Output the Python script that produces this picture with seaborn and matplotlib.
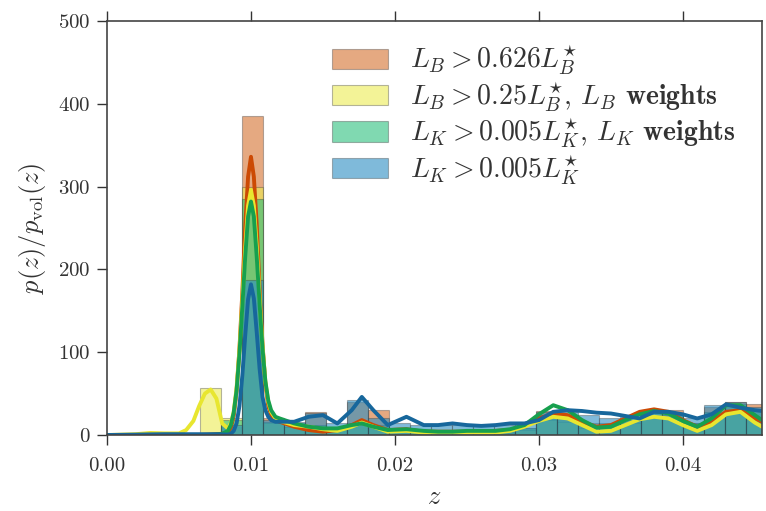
import numpy as np
import matplotlib
matplotlib.use("Agg")
import matplotlib.pyplot as plt
import seaborn as sns

# ---------------- data ----------------
bin_start = 0.00062
bin_width = 0.00146
n_bins = 31

labels = [r'$L_B > 0.626L_B^{\star}$',
          r'$L_B > 0.25L_B^{\star}$, $L_B$ $\mathbf{weights}$',
          r'$L_K > 0.005L_K^{\star}$, $L_K$ $\mathbf{weights}$',
          r'$L_K > 0.005L_K^{\star}$']

hist_orange = [0, 0, 0, 0, 0, 10, 385, 20, 10, 28, 8, 40, 30, 8, 6, 4, 4, 4, 4, 8,
               29, 24, 14, 12, 18, 28, 30, 14, 34, 40, 38]
hist_yellow = [0, 0, 3, 0, 57, 20, 300, 15, 10, 8, 6, 12, 10, 4, 3, 3, 3, 3, 3, 6,
               18, 16, 8, 10, 14, 20, 22, 10, 22, 28, 22]
hist_green = [0, 0, 0, 0, 0, 18, 285, 16, 14, 12, 8, 14, 12, 6, 5, 5, 5, 5, 5, 8,
              24, 22, 12, 14, 18, 26, 24, 14, 28, 38, 32]
hist_blue = [0, 0, 0, 0, 0, 12, 187, 18, 16, 26, 14, 42, 20, 14, 12, 12, 12, 12, 12, 14,
             28, 28, 24, 20, 22, 28, 26, 20, 36, 40, 34]

z_curve = [0, 0.002, 0.003, 0.004, 0.005, 0.0055, 0.006, 0.0064, 0.0068, 0.0072,
           0.0076, 0.008,
           0.0084, 0.0086, 0.0088, 0.009, 0.0092, 0.0094, 0.0096, 0.0098, 0.01,
           0.0102, 0.0104, 0.0106, 0.0108, 0.011, 0.0112, 0.0114, 0.0117, 0.012,
           0.013, 0.014, 0.015, 0.016, 0.017, 0.0177, 0.0185, 0.0195, 0.0208,
           0.022, 0.023, 0.024, 0.025, 0.026, 0.027, 0.028, 0.029, 0.030, 0.031,
           0.032, 0.033, 0.034, 0.035, 0.036, 0.037, 0.038, 0.039, 0.040, 0.041,
           0.042, 0.043, 0.044, 0.045, 0.0455]

kde_orange = [0, 0, 0, 0, 0, 0, 0, 0, 0.3, 0.5,
              1, 1.5,
              3, 9, 23, 53, 104, 172, 252, 312, 336,
              312, 254, 176, 110, 62, 35, 24, 18, 16,
              10, 6, 4, 6, 12, 18, 12, 6, 7,
              4, 4, 4, 4, 4, 5, 6, 12, 20, 26,
              24, 16, 10, 12, 20, 28, 31, 28, 18, 10,
              16, 28, 30, 20, 16]
kde_yellow = [0, 1, 2.5, 2, 2, 6, 17, 35, 50, 55,
              44, 14,
              8, 14, 28, 57, 103, 163, 226, 277, 296,
              277, 228, 166, 108, 64, 40, 28, 20, 17,
              12, 10, 7, 5, 10, 15, 10, 4, 5,
              3, 3, 3, 3, 3, 3, 5, 10, 17, 22,
              20, 12, 4, 5, 12, 19, 22, 20, 12, 5,
              12, 25, 28, 15, 10]
kde_green = [0, 0, 0, 0, 0, 0, 0, 0, 0, 0.3,
             0.6, 1.5,
             5, 12, 27, 54, 98, 155, 215, 264, 282,
             264, 215, 158, 105, 65, 42, 30, 22, 20,
             14, 10, 8, 8, 12, 14, 10, 6, 7,
             5, 4, 4, 5, 5, 5, 7, 12, 25, 36,
             30, 18, 9, 10, 18, 25, 29, 26, 17, 10,
             20, 36, 36, 24, 18]
kde_blue = [0, 0.5, 0.8, 1, 1, 1, 1, 1, 1, 1,
            1, 0.8,
            0.5, 1.5, 5, 14, 35, 72, 120, 164, 182,
            165, 124, 80, 46, 30, 22, 18, 16, 16,
            16, 22, 24, 14, 30, 46, 30, 12, 22,
            12, 12, 14, 12, 11, 12, 14, 14, 18, 28,
            30, 29, 27, 26, 23, 20, 28, 28, 25, 20,
            25, 37, 33, 30, 29]

fill_colors = ['#d4702e', '#ecec52', '#2cc07e', '#2a8dc2']
line_colors = ['#cc4a04', '#e8e630', '#17a04e', '#17679c']

# ---------------- style ----------------
sns.set_style('white')
plt.rcParams['font.family'] = ['serif']
plt.rcParams['font.serif'] = ['cmr10', 'DejaVu Serif']
plt.rcParams['mathtext.fontset'] = 'cm'
plt.rcParams['axes.formatter.use_mathtext'] = True
plt.rcParams['axes.unicode_minus'] = False

fig = plt.figure(figsize=(7.66, 5.11), dpi=100)
ax = fig.add_axes([0.1397, 0.1487, 0.8551, 0.8102])

edges = [bin_start + k * bin_width for k in range(n_bins + 1)]
centers = [bin_start + (k + 0.5) * bin_width for k in range(n_bins)]

hists = [hist_orange, hist_yellow, hist_green, hist_blue]
kdes = [kde_orange, kde_yellow, kde_green, kde_blue]

for h, fc, lab in zip(hists, fill_colors, labels):
    sns.histplot(x=centers, weights=h, bins=edges, color=fc, alpha=0.6,
                 edgecolor=(0.2, 0.2, 0.2, 0.35), linewidth=0.8, label=lab,
                 ax=ax, stat='count')

for k, lc in zip(kdes, line_colors):
    sns.lineplot(x=z_curve, y=k, color=lc, linewidth=2.8, ax=ax, legend=False)

ax.set_xlim(0, 0.0455)
ax.set_ylim(0, 500)
ax.set_xticks([0.0, 0.01, 0.02, 0.03, 0.04])
ax.set_xticklabels(['0.00', '0.01', '0.02', '0.03', '0.04'])
ax.set_yticks([0, 100, 200, 300, 400, 500])
ax.tick_params(axis='x', pad=9)
ax.tick_params(axis='y', pad=5)
ax.tick_params(axis='both', which='both', direction='out', length=7, width=1,
               labelsize=15, top=True, right=False, bottom=True, left=True,
               colors='#333333', labelcolor='#333333')
for s in ax.spines.values():
    s.set_color('#444444')
    s.set_linewidth(1.2)

ax.set_xlabel(r'$z$', fontsize=19, color='#333333', labelpad=7)
ax.set_ylabel(r'$p(z)/p_{\mathrm{vol}}(z)$', fontsize=19, color='#333333', labelpad=7)

leg = ax.legend(loc='upper right', frameon=False, fontsize=20,
                handlelength=2.0, handleheight=0.75, labelspacing=0.1,
                handletextpad=0.8, borderaxespad=0.2,
                bbox_to_anchor=(0.985, 0.985))
for t in leg.get_texts():
    t.set_color('#333333')

fig.savefig('out.png', dpi=100, facecolor='white')
